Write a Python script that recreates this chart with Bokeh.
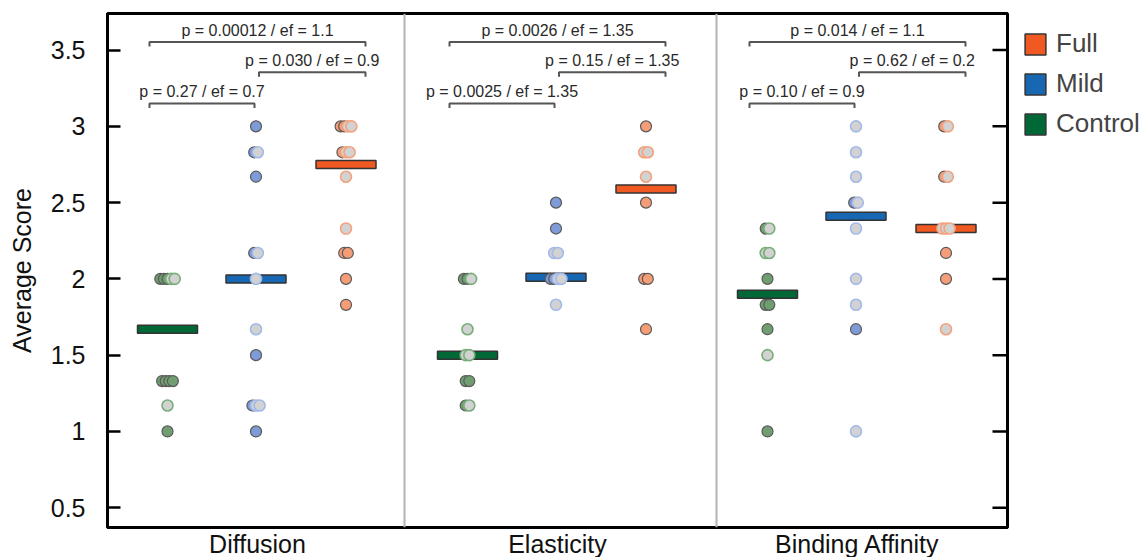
from collections import OrderedDict
from bokeh.plotting import figure
from bokeh.models import (Range1d, FixedTicker, Span, Legend, LegendItem,
                          ColumnDataSource)
from bokeh.embed import file_html
from bokeh.resources import INLINE
from bokeh.core.properties import value

# ---------------- data ----------------
categories = ["Diffusion", "Elasticity", "Binding Affinity"]
groups = ["Control", "Mild", "Full"]

mean_control = [1.67, 1.50, 1.90]
mean_mild = [2.00, 2.01, 2.41]
mean_full = [2.75, 2.59, 2.33]

# individual scores (filled markers / grey markers) per category
control_filled = [[2.0, 2.0, 2.0, 1.33, 1.33, 1.33, 1.33, 1.0],
                  [2.0, 2.0, 1.33, 1.33, 1.17],
                  [2.33, 2.0, 1.83, 1.83, 1.67, 1.0]]
control_grey = [[2.0, 2.0, 1.17],
                [2.0, 1.67, 1.5, 1.5, 1.17],
                [2.33, 2.17, 2.17, 1.5]]
mild_filled = [[3.0, 2.83, 2.67, 2.17, 1.5, 1.17, 1.0],
               [2.5, 2.33, 2.0, 2.0],
               [2.5, 1.67]]
mild_grey = [[2.83, 2.17, 2.0, 1.67, 1.17, 1.17],
             [2.17, 2.17, 2.0, 2.0, 1.83],
             [3.0, 2.83, 2.67, 2.5, 2.33, 2.0, 1.83, 1.0]]
full_filled = [[3.0, 3.0, 2.83, 2.17, 2.17, 2.0, 1.83],
               [3.0, 2.5, 2.0, 2.0, 1.67],
               [3.0, 2.67, 2.17, 2.0]]
full_grey = [[3.0, 3.0, 2.83, 2.83, 2.67, 2.33],
             [2.83, 2.83, 2.67],
             [3.0, 2.67, 2.33, 2.33, 2.33, 1.67]]

# comparison labels: Control-Full, Mild-Full, Control-Mild
cmp_control_full = ["p = 0.00012 / ef = 1.1", "p = 0.0026 / ef = 1.35", "p = 0.014 / ef = 1.1"]
cmp_mild_full = ["p = 0.030 / ef = 0.9", "p = 0.15 / ef = 1.35", "p = 0.62 / ef = 0.2"]
cmp_control_mild = ["p = 0.27 / ef = 0.7", "p = 0.0025 / ef = 1.35", "p = 0.10 / ef = 0.9"]

y_ticks = [0.5, 1, 1.5, 2, 2.5, 3, 3.5]
y_tick_labels = ["0.5", "1", "1.5", "2", "2.5", "3", "3.5"]

# ---------------- styling ----------------
FONT = "Liberation Sans"
offset = {"Control": 0.2, "Mild": 0.495, "Full": 0.795}
bar_color = {"Full": "#f05a22", "Mild": "#1767b3", "Control": "#006837"}
dot_fill = {"Full": "#f49d77", "Mild": "#7e9bd7", "Control": "#709e71"}
grey_edge = {"Full": "#f4a27e", "Mild": "#a3b9ea", "Control": "#78ae79"}
means = {"Control": mean_control, "Mild": mean_mild, "Full": mean_full}
filled = {"Control": control_filled, "Mild": mild_filled, "Full": full_filled}
grey = {"Control": control_grey, "Mild": mild_grey, "Full": full_grey}

p = figure(frame_width=900, frame_height=514, output_backend="svg", toolbar_location=None,
           x_range=Range1d(0, 3), y_range=Range1d(0.37, 3.74),
           min_border_left=107, min_border_top=13, min_border_bottom=0,
           min_border_right=0)
p.xgrid.visible = False
p.ygrid.visible = False
p.outline_line_color = "black"
p.outline_line_width = 3
p.background_fill_color = "white"

# axes
p.yaxis.ticker = FixedTicker(ticks=y_ticks)
p.yaxis.major_label_overrides = {t: l for t, l in zip(y_ticks, y_tick_labels)}
p.yaxis.axis_label = "Average Score"
p.yaxis.axis_label_text_font = FONT
p.yaxis.axis_label_text_font_size = "25px"
p.yaxis.axis_label_text_font_style = "normal"
p.yaxis.axis_label_text_color = "#111111"
p.yaxis.axis_label_standoff = 12
p.yaxis.major_label_text_font = FONT
p.yaxis.major_label_text_font_size = "25px"
p.yaxis.major_label_text_color = "#111111"
p.yaxis.major_label_standoff = 22
p.yaxis.major_tick_in = 13
p.yaxis.major_tick_out = 0
p.yaxis.minor_tick_line_color = None
p.yaxis.major_tick_line_width = 2.5
p.yaxis.axis_line_width = 3

p.xaxis.ticker = FixedTicker(ticks=[0.5, 1.5, 2.5])
p.xaxis.major_label_overrides = {0.5: categories[0], 1.5: categories[1], 2.5: categories[2]}
p.xaxis.major_label_text_font = FONT
p.xaxis.major_label_text_font_size = "25px"
p.xaxis.major_label_text_color = "#111111"
p.xaxis.major_label_standoff = 2
p.xaxis.major_tick_in = 0
p.xaxis.major_tick_out = 0
p.xaxis.minor_tick_line_color = None
p.xaxis.axis_line_width = 3

# inward ticks on the right frame edge (outer half clipped by the frame)
p.scatter(x=[3] * len(y_ticks), y=y_ticks, marker="dash", size=30,
          line_color="black", line_width=2.5)

for d in [0.99, 2.03]:
    p.add_layout(Span(location=d, dimension="height", line_color="#b4b4b4", line_width=2))

# mean bars
bar_renderers = {}
for g in groups:
    src = ColumnDataSource(dict(x=[i + offset[g] for i in range(3)], y=means[g]))
    bar_renderers[g] = p.rect(x="x", y="y", width=0.2, height=8, height_units="screen",
                              source=src, fill_color=bar_color[g],
                              line_color="#333333", line_width=1.5)

# points with a small horizontal dodge for ties
step = 0.012
for g in groups:
    fx, fy, gx, gy = [], [], [], []
    for ci in range(3):
        pts = [(v, "f") for v in filled[g][ci]] + [(v, "g") for v in grey[g][ci]]
        byval = OrderedDict()
        for v, k in pts:
            byval.setdefault(round(v, 2), []).append(k)
        for v, kinds in byval.items():
            n = len(kinds)
            for j, k in enumerate(kinds):
                xx = ci + offset[g] + (j - (n - 1) / 2) * step
                if k == "f":
                    fx.append(xx); fy.append(v)
                else:
                    gx.append(xx); gy.append(v)
    p.scatter(fx, fy, size=11, fill_color=dot_fill[g], line_color="#5a5a5a", line_width=1.2)
    p.scatter(gx, gy, size=11, fill_color="#d2d2d2", line_color=grey_edge[g], line_width=1.6)

# comparison brackets
levels = [(3.553, 0.14, 0.86, cmp_control_full),
          (3.355, 0.505, 0.86, cmp_mild_full),
          (3.15, 0.14, 0.49, cmp_control_mild)]
for lvl, a, b, labels in levels:
    xs, ys, tx, ty = [], [], [], []
    for ci in range(3):
        x0, x1 = ci + a, ci + b
        xs.append([x0, x0, x1, x1])
        ys.append([lvl - 0.03, lvl, lvl, lvl - 0.03])
        tx.append((x0 + x1) / 2)
        ty.append(lvl)
    p.multi_line(xs, ys, line_color="#555555", line_width=2)
    p.text(tx, ty, text=labels, text_align="center", text_baseline="bottom",
           y_offset=-3, text_font=value(FONT), text_font_size="16px", text_color="#2a2a2a")

legend = Legend(items=[LegendItem(label=g, renderers=[bar_renderers[g]]) for g in ["Full", "Mild", "Control"]],
                location="top_left", glyph_width=26, glyph_height=26,
                label_text_font=FONT, label_text_font_size="26px", label_standoff=8,
                spacing=9, padding=0, margin=15, border_line_color=None,
                background_fill_alpha=0)
p.add_layout(legend, "right")

open("out.html", "w").write(file_html(p, INLINE))
